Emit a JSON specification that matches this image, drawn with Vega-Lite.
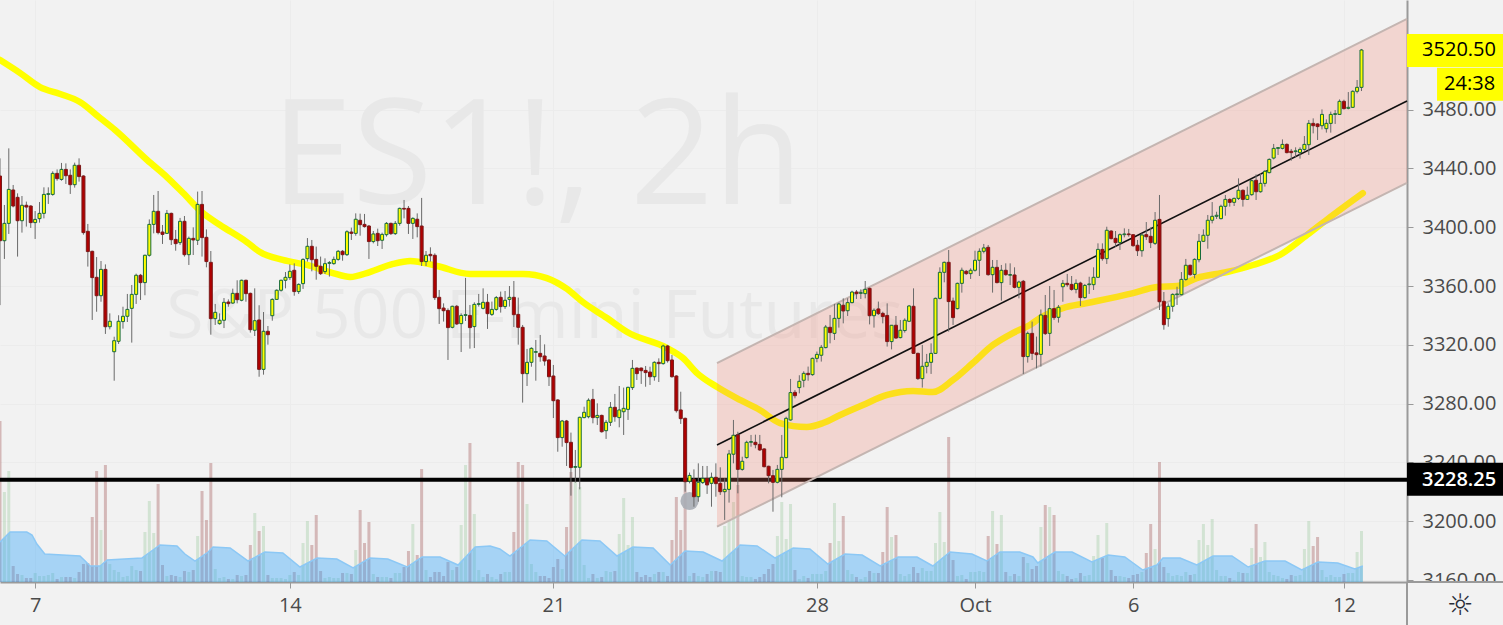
{"$schema":"https://vega.github.io/schema/vega-lite/v6.json","width":1407,"height":582,"autosize":"none","padding":{"left":0,"top":0,"right":96,"bottom":43},"background":"#f2f2f2","config":{"view":{"stroke":null},"text":{"font":"Open Sans"},"axis":{"labelFont":"Open Sans"}},
"datasets":{
"bars":[
{"b":0,"o":3434.8,"h":3446.8,"l":3347,"c":3390.8,"v":161},
{"b":1,"o":3390.8,"h":3415.1,"l":3378.4,"c":3402.6,"v":90},
{"b":2,"o":3402.6,"h":3453.6,"l":3395.4,"c":3425.7,"v":111},
{"b":3,"o":3425.3,"h":3428.7,"l":3413.5,"c":3414.4,"v":16},
{"b":4,"o":3420.3,"h":3423,"l":3380,"c":3404.4,"v":8},
{"b":5,"o":3404.4,"h":3421.2,"l":3396.3,"c":3414.9,"v":7},
{"b":6,"o":3414.9,"h":3417.4,"l":3400.4,"c":3413.7,"v":4},
{"b":7,"o":3414.4,"h":3414.9,"l":3399.5,"c":3403.1,"v":4},
{"b":8,"o":3403.1,"h":3411,"l":3392,"c":3405.3,"v":9},
{"b":9,"o":3405.8,"h":3417.1,"l":3403.1,"c":3409.4,"v":6},
{"b":10,"o":3409.4,"h":3427.1,"l":3406,"c":3422.3,"v":6},
{"b":11,"o":3422.3,"h":3427.1,"l":3415.8,"c":3422.8,"v":7},
{"b":12,"o":3422.3,"h":3438,"l":3421.4,"c":3436.6,"v":9},
{"b":13,"o":3436.6,"h":3439.3,"l":3431.6,"c":3433,"v":3},
{"b":14,"o":3432.5,"h":3443.7,"l":3431.6,"c":3439.3,"v":5},
{"b":15,"o":3439.3,"h":3443.4,"l":3429.4,"c":3435,"v":5},
{"b":16,"o":3435.3,"h":3439.3,"l":3422.6,"c":3428.9,"v":5},
{"b":17,"o":3428.9,"h":3443.9,"l":3426.9,"c":3442.1,"v":4},
{"b":18,"o":3442.1,"h":3446.8,"l":3431,"c":3434.4,"v":10},
{"b":19,"o":3434.8,"h":3435.3,"l":3394.9,"c":3396.3,"v":18},
{"b":20,"o":3397.2,"h":3402.2,"l":3373.2,"c":3383.4,"v":19},
{"b":21,"o":3383.6,"h":3384,"l":3336.9,"c":3365.7,"v":65},
{"b":22,"o":3365.9,"h":3379.7,"l":3342.5,"c":3353.4,"v":111},
{"b":23,"o":3353.4,"h":3377,"l":3349.3,"c":3371.3,"v":52},
{"b":24,"o":3371.3,"h":3374.7,"l":3327.4,"c":3332.3,"v":117},
{"b":25,"o":3332.3,"h":3341.4,"l":3330.5,"c":3336,"v":18},
{"b":26,"o":3315.3,"h":3325.5,"l":3295.6,"c":3322.8,"v":12},
{"b":27,"o":3322.4,"h":3340.1,"l":3320.6,"c":3336,"v":10},
{"b":28,"o":3335.8,"h":3345.9,"l":3331,"c":3339.4,"v":5},
{"b":29,"o":3339.4,"h":3354.6,"l":3335.5,"c":3344.1,"v":6},
{"b":30,"o":3344.8,"h":3360.7,"l":3321.5,"c":3354.3,"v":16},
{"b":31,"o":3354.3,"h":3368.4,"l":3347.8,"c":3367.3,"v":12},
{"b":32,"o":3367.3,"h":3368.2,"l":3350.5,"c":3362.3,"v":11},
{"b":33,"o":3362.3,"h":3381.3,"l":3353.7,"c":3380.9,"v":50},
{"b":34,"o":3380.9,"h":3405.3,"l":3380,"c":3401.9,"v":81},
{"b":35,"o":3401.9,"h":3421.9,"l":3395.8,"c":3410.8,"v":49},
{"b":36,"o":3410.8,"h":3424.6,"l":3395.1,"c":3396.3,"v":98},
{"b":37,"o":3396.7,"h":3401.5,"l":3388.6,"c":3395.1,"v":17},
{"b":38,"o":3395.8,"h":3411.7,"l":3395.4,"c":3409.4,"v":6},
{"b":39,"o":3409.4,"h":3409.9,"l":3387.9,"c":3391.5,"v":7},
{"b":40,"o":3391.7,"h":3398.1,"l":3384,"c":3388.8,"v":6},
{"b":41,"o":3389.5,"h":3406.3,"l":3387.9,"c":3404,"v":5},
{"b":42,"o":3404,"h":3407.6,"l":3380,"c":3381.3,"v":11},
{"b":43,"o":3381.3,"h":3393.6,"l":3374.3,"c":3392.4,"v":10},
{"b":44,"o":3392.4,"h":3399.9,"l":3381.1,"c":3391.3,"v":12},
{"b":45,"o":3391.1,"h":3424.2,"l":3387.9,"c":3415.5,"v":46},
{"b":46,"o":3415.5,"h":3424.6,"l":3380,"c":3392.9,"v":91},
{"b":47,"o":3393.1,"h":3398.5,"l":3372.7,"c":3376.6,"v":62},
{"b":48,"o":3376.1,"h":3383.8,"l":3326.9,"c":3337.8,"v":119},
{"b":49,"o":3337.8,"h":3347.8,"l":3333.5,"c":3342.1,"v":13},
{"b":50,"o":3334.4,"h":3341.4,"l":3333.7,"c":3336.7,"v":4},
{"b":51,"o":3336.7,"h":3351.8,"l":3331.4,"c":3348.9,"v":5},
{"b":52,"o":3349.1,"h":3350.9,"l":3345.9,"c":3348,"v":3},
{"b":53,"o":3348.4,"h":3358.2,"l":3347.8,"c":3355,"v":3},
{"b":54,"o":3355,"h":3363.9,"l":3348.2,"c":3350.7,"v":7},
{"b":55,"o":3350.3,"h":3364.3,"l":3349.6,"c":3363.9,"v":6},
{"b":56,"o":3363.9,"h":3364.3,"l":3349.3,"c":3354.8,"v":7},
{"b":57,"o":3355,"h":3355.5,"l":3328.3,"c":3330.3,"v":37},
{"b":58,"o":3329.9,"h":3358.4,"l":3326,"c":3336.4,"v":69},
{"b":59,"o":3336.9,"h":3346.9,"l":3298.3,"c":3303.3,"v":51},
{"b":60,"o":3303.3,"h":3342.3,"l":3299.7,"c":3329.2,"v":56},
{"b":61,"o":3329.2,"h":3332.8,"l":3320.1,"c":3326.9,"v":7},
{"b":62,"o":3339.8,"h":3351.6,"l":3336.4,"c":3350.9,"v":4},
{"b":63,"o":3350.9,"h":3357.7,"l":3350.5,"c":3357.1,"v":4},
{"b":64,"o":3357.1,"h":3364.3,"l":3356.2,"c":3363.9,"v":4},
{"b":65,"o":3363.9,"h":3369.5,"l":3358.4,"c":3365.9,"v":3},
{"b":66,"o":3365.7,"h":3374.7,"l":3364.1,"c":3370,"v":7},
{"b":67,"o":3370.7,"h":3375.4,"l":3353.4,"c":3356.2,"v":10},
{"b":68,"o":3356.2,"h":3361.8,"l":3354.6,"c":3361.1,"v":7},
{"b":69,"o":3361.6,"h":3378.8,"l":3358,"c":3378.1,"v":39},
{"b":70,"o":3378.6,"h":3392.6,"l":3376.6,"c":3387,"v":61},
{"b":71,"o":3387,"h":3391.3,"l":3370,"c":3377.9,"v":37},
{"b":72,"o":3378.1,"h":3386.8,"l":3364.3,"c":3373.4,"v":67},
{"b":73,"o":3373.4,"h":3380,"l":3367.5,"c":3368.4,"v":11},
{"b":74,"o":3369.8,"h":3378.8,"l":3368.2,"c":3375.2,"v":4},
{"b":75,"o":3375.4,"h":3377,"l":3366.4,"c":3375.9,"v":5},
{"b":76,"o":3375.2,"h":3380,"l":3374.5,"c":3378.1,"v":4},
{"b":77,"o":3378.1,"h":3384.5,"l":3377.2,"c":3383.6,"v":4},
{"b":78,"o":3383.6,"h":3384.5,"l":3377.2,"c":3381.3,"v":9},
{"b":79,"o":3381.3,"h":3397.9,"l":3380.4,"c":3396.9,"v":9},
{"b":80,"o":3396.7,"h":3399.7,"l":3391.3,"c":3395.8,"v":8},
{"b":81,"o":3395.8,"h":3409.4,"l":3394.2,"c":3405.4,"v":32},
{"b":82,"o":3404.7,"h":3409.2,"l":3394.2,"c":3401.7,"v":72},
{"b":83,"o":3401.9,"h":3409,"l":3399.7,"c":3400.4,"v":39},
{"b":84,"o":3400.8,"h":3401.5,"l":3378.4,"c":3390.2,"v":60},
{"b":85,"o":3390.2,"h":3397.4,"l":3389,"c":3395.4,"v":8},
{"b":86,"o":3395.8,"h":3399,"l":3387.2,"c":3390.8,"v":5},
{"b":87,"o":3391.1,"h":3396.3,"l":3385.2,"c":3395.1,"v":5},
{"b":88,"o":3394.9,"h":3403.5,"l":3393.6,"c":3402.6,"v":5},
{"b":89,"o":3402.6,"h":3403.1,"l":3394.7,"c":3395.6,"v":4},
{"b":90,"o":3395.6,"h":3404.2,"l":3394.7,"c":3402.6,"v":9},
{"b":91,"o":3402.6,"h":3413.3,"l":3401,"c":3412.8,"v":9},
{"b":92,"o":3412.8,"h":3418.5,"l":3406,"c":3412.3,"v":15},
{"b":93,"o":3412.8,"h":3414.4,"l":3395.4,"c":3402.6,"v":31},
{"b":94,"o":3402.6,"h":3406.7,"l":3392,"c":3406,"v":58},
{"b":95,"o":3405.4,"h":3409.4,"l":3393.1,"c":3400.4,"v":27},
{"b":96,"o":3400.8,"h":3419.9,"l":3373.6,"c":3376.6,"v":113},
{"b":97,"o":3376.6,"h":3383.8,"l":3373.6,"c":3380.9,"v":12},
{"b":98,"o":3381.5,"h":3386.3,"l":3376.6,"c":3380.6,"v":5},
{"b":99,"o":3380.9,"h":3382.2,"l":3350.5,"c":3352.1,"v":10},
{"b":100,"o":3352.3,"h":3357.3,"l":3334.2,"c":3344.6,"v":10},
{"b":101,"o":3345,"h":3348.2,"l":3335.8,"c":3343.2,"v":6},
{"b":102,"o":3343.4,"h":3344.8,"l":3309.7,"c":3331.7,"v":20},
{"b":103,"o":3331.9,"h":3346.6,"l":3331.2,"c":3346.2,"v":12},
{"b":104,"o":3346.2,"h":3347.1,"l":3333.5,"c":3334.2,"v":15},
{"b":105,"o":3334.4,"h":3341.4,"l":3315.1,"c":3340,"v":57},
{"b":106,"o":3340,"h":3365.5,"l":3336.2,"c":3340.5,"v":117},
{"b":107,"o":3340,"h":3347.1,"l":3317.4,"c":3331.7,"v":139},
{"b":108,"o":3332.4,"h":3348.9,"l":3317.8,"c":3347.5,"v":68},
{"b":109,"o":3347.5,"h":3354.6,"l":3346,"c":3348,"v":12},
{"b":110,"o":3344.8,"h":3358.4,"l":3344.1,"c":3348.9,"v":5},
{"b":111,"o":3348.9,"h":3354.6,"l":3330.8,"c":3341.2,"v":8},
{"b":112,"o":3340.7,"h":3349.4,"l":3339.6,"c":3344.1,"v":5},
{"b":113,"o":3344.1,"h":3353.2,"l":3343.2,"c":3352.1,"v":3},
{"b":114,"o":3352.3,"h":3356.2,"l":3341.9,"c":3346,"v":8},
{"b":115,"o":3346,"h":3356.6,"l":3344.4,"c":3350.3,"v":10},
{"b":116,"o":3350.9,"h":3360,"l":3346,"c":3352.3,"v":10},
{"b":117,"o":3352.3,"h":3363.4,"l":3332.1,"c":3340.5,"v":50},
{"b":118,"o":3340.7,"h":3352.1,"l":3320.1,"c":3331.9,"v":120},
{"b":119,"o":3331.9,"h":3333.5,"l":3280.7,"c":3300.4,"v":117},
{"b":120,"o":3300.4,"h":3317.2,"l":3292,"c":3308.1,"v":78},
{"b":121,"o":3308.1,"h":3318.3,"l":3305.1,"c":3317.6,"v":18},
{"b":122,"o":3314.9,"h":3323.3,"l":3295.6,"c":3315.4,"v":10},
{"b":123,"o":3314.2,"h":3326.7,"l":3308.5,"c":3311.9,"v":6},
{"b":124,"o":3312.4,"h":3320.3,"l":3305.8,"c":3309,"v":6},
{"b":125,"o":3309.7,"h":3310.1,"l":3292,"c":3298.3,"v":4},
{"b":126,"o":3298.8,"h":3306.3,"l":3270.2,"c":3282,"v":15},
{"b":127,"o":3282.5,"h":3283,"l":3247.3,"c":3256.9,"v":23},
{"b":128,"o":3256.9,"h":3268.9,"l":3250.7,"c":3268.2,"v":13},
{"b":129,"o":3268.2,"h":3268.9,"l":3237.6,"c":3253.5,"v":55},
{"b":130,"o":3253.7,"h":3260.3,"l":3217.4,"c":3236.5,"v":110},
{"b":131,"o":3236.7,"h":3248.5,"l":3226.3,"c":3237.2,"v":101},
{"b":132,"o":3236.7,"h":3271.1,"l":3221.7,"c":3270.7,"v":95},
{"b":133,"o":3270.5,"h":3277.9,"l":3270,"c":3274.1,"v":17},
{"b":134,"o":3271.1,"h":3283.6,"l":3270,"c":3282.3,"v":4},
{"b":135,"o":3282.9,"h":3290,"l":3266.6,"c":3270.5,"v":8},
{"b":136,"o":3270.5,"h":3280.2,"l":3265.5,"c":3272,"v":4},
{"b":137,"o":3272,"h":3272.5,"l":3260.3,"c":3260.9,"v":5},
{"b":138,"o":3261.6,"h":3268.9,"l":3256,"c":3267.3,"v":11},
{"b":139,"o":3267.3,"h":3281.1,"l":3264.8,"c":3277.5,"v":10},
{"b":140,"o":3277.5,"h":3286.6,"l":3267.7,"c":3271.1,"v":11},
{"b":141,"o":3270.5,"h":3292,"l":3263.9,"c":3275.7,"v":48},
{"b":142,"o":3274.5,"h":3290.9,"l":3258.7,"c":3276.8,"v":84},
{"b":143,"o":3276.1,"h":3291.5,"l":3268.9,"c":3291.1,"v":37},
{"b":144,"o":3290.9,"h":3309.7,"l":3289.3,"c":3304,"v":65},
{"b":145,"o":3304.2,"h":3304.5,"l":3296.1,"c":3300.4,"v":10},
{"b":146,"o":3304.2,"h":3304.5,"l":3293.4,"c":3302.4,"v":5},
{"b":147,"o":3302.6,"h":3305.6,"l":3291.5,"c":3301.1,"v":7},
{"b":148,"o":3301.5,"h":3305.1,"l":3292.7,"c":3298.3,"v":5},
{"b":149,"o":3298.3,"h":3308.8,"l":3295.6,"c":3308.1,"v":8},
{"b":150,"o":3308.1,"h":3310.8,"l":3294.7,"c":3307.2,"v":10},
{"b":151,"o":3307.2,"h":3320.1,"l":3306.5,"c":3319.2,"v":10},
{"b":152,"o":3319.2,"h":3319.9,"l":3307.9,"c":3309.2,"v":6},
{"b":153,"o":3309.7,"h":3313.1,"l":3297.7,"c":3298.3,"v":42},
{"b":154,"o":3298.8,"h":3299.3,"l":3273.9,"c":3275.2,"v":85},
{"b":155,"o":3275.7,"h":3288.1,"l":3266.2,"c":3269.8,"v":52},
{"b":156,"o":3270,"h":3270.5,"l":3220.1,"c":3226.9,"v":130},
{"b":157,"o":3227.2,"h":3233.1,"l":3225.8,"c":3231.2,"v":6},
{"b":158,"o":3228.5,"h":3235.3,"l":3209.9,"c":3216.7,"v":9},
{"b":159,"o":3216.7,"h":3239.4,"l":3213.3,"c":3226.5,"v":6},
{"b":160,"o":3226.3,"h":3237.6,"l":3225.4,"c":3229.2,"v":5},
{"b":161,"o":3229.2,"h":3237.6,"l":3218.6,"c":3224.7,"v":8},
{"b":162,"o":3225.8,"h":3233.1,"l":3209.9,"c":3229.9,"v":11},
{"b":163,"o":3229.9,"h":3239.4,"l":3216.7,"c":3225.6,"v":11},
{"b":164,"o":3225.8,"h":3236.7,"l":3217.9,"c":3220.1,"v":10},
{"b":165,"o":3220.1,"h":3229.2,"l":3200.9,"c":3221.7,"v":56},
{"b":166,"o":3221.7,"h":3248.5,"l":3212.7,"c":3245.8,"v":61},
{"b":167,"o":3245.6,"h":3268.9,"l":3239.4,"c":3258.5,"v":80},
{"b":168,"o":3258.7,"h":3260.9,"l":3219,"c":3235.3,"v":97},
{"b":169,"o":3235.3,"h":3243.9,"l":3234.4,"c":3240.8,"v":6},
{"b":170,"o":3243.3,"h":3254.8,"l":3242.6,"c":3253.7,"v":5},
{"b":171,"o":3253.7,"h":3258.7,"l":3250.7,"c":3254.2,"v":5},
{"b":172,"o":3253.7,"h":3258.9,"l":3249.6,"c":3252.1,"v":3},
{"b":173,"o":3252.3,"h":3258.7,"l":3247.8,"c":3248.5,"v":5},
{"b":174,"o":3249.2,"h":3249.6,"l":3236.7,"c":3237.1,"v":8},
{"b":175,"o":3237.4,"h":3237.8,"l":3225.8,"c":3231,"v":13},
{"b":176,"o":3231,"h":3234.9,"l":3206.5,"c":3226.5,"v":18},
{"b":177,"o":3226.5,"h":3238.3,"l":3225.8,"c":3235.3,"v":46},
{"b":178,"o":3235.3,"h":3258.7,"l":3216.3,"c":3243.5,"v":80},
{"b":179,"o":3243.3,"h":3271.1,"l":3242.8,"c":3270,"v":43},
{"b":180,"o":3268.9,"h":3296.8,"l":3268.4,"c":3287.5,"v":78},
{"b":181,"o":3287.7,"h":3289.3,"l":3283.6,"c":3285.4,"v":12},
{"b":182,"o":3290.9,"h":3299.3,"l":3287,"c":3295.2,"v":3},
{"b":183,"o":3295.9,"h":3302,"l":3291.1,"c":3300.6,"v":6},
{"b":184,"o":3300.6,"h":3305.2,"l":3295.6,"c":3299.7,"v":4},
{"b":185,"o":3299.7,"h":3311.3,"l":3299,"c":3310.8,"v":8},
{"b":186,"o":3310.8,"h":3315.4,"l":3308.1,"c":3313.5,"v":8},
{"b":187,"o":3312.9,"h":3319.9,"l":3308.6,"c":3318.3,"v":8},
{"b":188,"o":3318.1,"h":3333.5,"l":3317.6,"c":3332.1,"v":11},
{"b":189,"o":3331.9,"h":3340.3,"l":3321,"c":3328.3,"v":39},
{"b":190,"o":3327.8,"h":3347.8,"l":3323.3,"c":3338,"v":79},
{"b":191,"o":3338,"h":3348.7,"l":3331.7,"c":3347.8,"v":41},
{"b":192,"o":3346.9,"h":3351.6,"l":3334.6,"c":3343,"v":66},
{"b":193,"o":3343.2,"h":3351.6,"l":3339.6,"c":3348.7,"v":12},
{"b":194,"o":3348.7,"h":3356.8,"l":3348.2,"c":3355.9,"v":8},
{"b":195,"o":3355.9,"h":3357.3,"l":3351.2,"c":3354.8,"v":5},
{"b":196,"o":3355,"h":3357.7,"l":3351.2,"c":3355.5,"v":3},
{"b":197,"o":3354.8,"h":3363.4,"l":3351.6,"c":3357.7,"v":5},
{"b":198,"o":3358.4,"h":3358.9,"l":3333.9,"c":3339.8,"v":11},
{"b":199,"o":3339.8,"h":3344.8,"l":3331.7,"c":3343.5,"v":9},
{"b":200,"o":3344.4,"h":3349.4,"l":3340.3,"c":3341.2,"v":9},
{"b":201,"o":3341.4,"h":3342.5,"l":3334.6,"c":3339.2,"v":30},
{"b":202,"o":3340,"h":3348.2,"l":3318.8,"c":3322.2,"v":75},
{"b":203,"o":3322.2,"h":3333.5,"l":3316.9,"c":3333.3,"v":45},
{"b":204,"o":3333.3,"h":3339.6,"l":3324.2,"c":3324.6,"v":47},
{"b":205,"o":3324.9,"h":3336.9,"l":3324.4,"c":3329.9,"v":8},
{"b":206,"o":3329.7,"h":3338,"l":3328.3,"c":3336.7,"v":6},
{"b":207,"o":3336,"h":3347.1,"l":3335.5,"c":3346.4,"v":8},
{"b":208,"o":3346.2,"h":3358.4,"l":3313.8,"c":3314.2,"v":15},
{"b":209,"o":3314.2,"h":3314.7,"l":3296.1,"c":3297,"v":9},
{"b":210,"o":3297,"h":3319.9,"l":3290.9,"c":3305.4,"v":14},
{"b":211,"o":3305.4,"h":3313.8,"l":3300.6,"c":3308.1,"v":11},
{"b":212,"o":3308.1,"h":3321,"l":3300.2,"c":3314.2,"v":11},
{"b":213,"o":3314.2,"h":3352.1,"l":3313.8,"c":3351.6,"v":39},
{"b":214,"o":3351.6,"h":3372.7,"l":3350.9,"c":3369.3,"v":70},
{"b":215,"o":3369.3,"h":3376.6,"l":3362.5,"c":3376.1,"v":40},
{"b":216,"o":3376.1,"h":3384.5,"l":3329,"c":3349.4,"v":145},
{"b":217,"o":3349.8,"h":3352.1,"l":3333.5,"c":3338.5,"v":22},
{"b":218,"o":3344.6,"h":3362.3,"l":3344.1,"c":3361.8,"v":6},
{"b":219,"o":3361.8,"h":3372.5,"l":3355.5,"c":3370.7,"v":7},
{"b":220,"o":3370,"h":3370.9,"l":3367.5,"c":3368.4,"v":3},
{"b":221,"o":3368.4,"h":3372,"l":3364.8,"c":3370.7,"v":10},
{"b":222,"o":3370.7,"h":3384,"l":3369.8,"c":3377.5,"v":10},
{"b":223,"o":3377.5,"h":3385.6,"l":3366.8,"c":3383.6,"v":11},
{"b":224,"o":3383.6,"h":3388.6,"l":3382.2,"c":3385.9,"v":10},
{"b":225,"o":3386.3,"h":3387.9,"l":3367,"c":3367.7,"v":46},
{"b":226,"o":3367.7,"h":3377.7,"l":3355.5,"c":3372.7,"v":71},
{"b":227,"o":3372.7,"h":3377.7,"l":3361.8,"c":3362.3,"v":38},
{"b":228,"o":3362.3,"h":3374.3,"l":3350,"c":3370.7,"v":67},
{"b":229,"o":3370.7,"h":3375.4,"l":3367,"c":3367.7,"v":10},
{"b":230,"o":3367.3,"h":3375.4,"l":3360.7,"c":3367.8,"v":6},
{"b":231,"o":3367.5,"h":3372.7,"l":3358.4,"c":3359.1,"v":8},
{"b":232,"o":3359.1,"h":3363.6,"l":3351.6,"c":3362.7,"v":6},
{"b":233,"o":3363.2,"h":3364.1,"l":3300.2,"c":3312,"v":25},
{"b":234,"o":3312,"h":3329,"l":3307.9,"c":3327.8,"v":19},
{"b":235,"o":3327.8,"h":3335.8,"l":3309.7,"c":3314.2,"v":13},
{"b":236,"o":3314.5,"h":3325.6,"l":3304,"c":3313.3,"v":16},
{"b":237,"o":3313.5,"h":3344,"l":3305.2,"c":3340.3,"v":55},
{"b":238,"o":3340,"h":3353.9,"l":3326.7,"c":3327.6,"v":77},
{"b":239,"o":3327.8,"h":3360,"l":3319.2,"c":3344.6,"v":75},
{"b":240,"o":3344.6,"h":3357.3,"l":3336.9,"c":3338.5,"v":67},
{"b":241,"o":3338.7,"h":3347.1,"l":3335.1,"c":3345.5,"v":11},
{"b":242,"o":3359.5,"h":3364.1,"l":3349.3,"c":3361.8,"v":8},
{"b":243,"o":3361.8,"h":3368.2,"l":3359.5,"c":3360.9,"v":6},
{"b":244,"o":3361.1,"h":3366.8,"l":3356.8,"c":3357.7,"v":3},
{"b":245,"o":3357.7,"h":3364.5,"l":3355,"c":3361.8,"v":4},
{"b":246,"o":3362,"h":3362.9,"l":3346.4,"c":3352.1,"v":9},
{"b":247,"o":3352.1,"h":3361.4,"l":3351.4,"c":3360.4,"v":6},
{"b":248,"o":3360.9,"h":3366.3,"l":3354.6,"c":3361.4,"v":7},
{"b":249,"o":3360.9,"h":3372.7,"l":3357.3,"c":3365.9,"v":26},
{"b":250,"o":3365.9,"h":3389,"l":3365.4,"c":3384.9,"v":47},
{"b":251,"o":3384.9,"h":3389,"l":3377.2,"c":3378.6,"v":24},
{"b":252,"o":3378.6,"h":3400.3,"l":3375,"c":3397.9,"v":59},
{"b":253,"o":3397.4,"h":3397.9,"l":3391.7,"c":3392.2,"v":12},
{"b":254,"o":3392.4,"h":3397.4,"l":3386.7,"c":3389.5,"v":6},
{"b":255,"o":3389.5,"h":3395.8,"l":3384.5,"c":3394.9,"v":6},
{"b":256,"o":3394.9,"h":3399.2,"l":3393.1,"c":3395.4,"v":5},
{"b":257,"o":3395.4,"h":3398.8,"l":3393.5,"c":3394.9,"v":4},
{"b":258,"o":3394.9,"h":3395.3,"l":3386.7,"c":3387.4,"v":7},
{"b":259,"o":3387.7,"h":3391.3,"l":3380.4,"c":3384,"v":8},
{"b":260,"o":3384,"h":3395.8,"l":3379.9,"c":3394.7,"v":10},
{"b":261,"o":3394.9,"h":3403.5,"l":3391.3,"c":3393.5,"v":29},
{"b":262,"o":3393.8,"h":3399.9,"l":3385.8,"c":3389.5,"v":58},
{"b":263,"o":3389,"h":3410.3,"l":3387.9,"c":3404.7,"v":33},
{"b":264,"o":3405.3,"h":3421.9,"l":3343.7,"c":3349.3,"v":120},
{"b":265,"o":3349.6,"h":3355.9,"l":3330.3,"c":3333.7,"v":15},
{"b":266,"o":3337.8,"h":3348.2,"l":3332.3,"c":3346.2,"v":9},
{"b":267,"o":3346.2,"h":3355,"l":3342.5,"c":3354.3,"v":6},
{"b":268,"o":3354.1,"h":3359.5,"l":3347.1,"c":3354.6,"v":7},
{"b":269,"o":3354.1,"h":3369.5,"l":3353.6,"c":3364.5,"v":6},
{"b":270,"o":3364.5,"h":3378.4,"l":3363.6,"c":3374.1,"v":10},
{"b":271,"o":3374.1,"h":3374.5,"l":3367,"c":3367.7,"v":7},
{"b":272,"o":3367.9,"h":3378.8,"l":3365.2,"c":3378.1,"v":8},
{"b":273,"o":3377.9,"h":3395.4,"l":3376.1,"c":3390.4,"v":42},
{"b":274,"o":3390.4,"h":3398.5,"l":3389.9,"c":3394.5,"v":58},
{"b":275,"o":3394.5,"h":3408.3,"l":3385.4,"c":3404.7,"v":37},
{"b":276,"o":3404.7,"h":3417.1,"l":3402.6,"c":3407.4,"v":63},
{"b":277,"o":3407.4,"h":3410.5,"l":3405.6,"c":3408.1,"v":12},
{"b":278,"o":3405.8,"h":3415.3,"l":3405.3,"c":3414.2,"v":6},
{"b":279,"o":3414.2,"h":3421.9,"l":3407.8,"c":3418.9,"v":6},
{"b":280,"o":3418.9,"h":3419.6,"l":3414,"c":3416.9,"v":4},
{"b":281,"o":3416.9,"h":3420.1,"l":3414.4,"c":3419.6,"v":2},
{"b":282,"o":3419.6,"h":3433.2,"l":3418.5,"c":3425.1,"v":10},
{"b":283,"o":3425.1,"h":3425.7,"l":3414,"c":3418.9,"v":9},
{"b":284,"o":3418.9,"h":3427.6,"l":3418.5,"c":3421.7,"v":9},
{"b":285,"o":3422.1,"h":3432.5,"l":3421.4,"c":3431.6,"v":34},
{"b":286,"o":3431.9,"h":3435.9,"l":3418.5,"c":3424.1,"v":58},
{"b":287,"o":3424.1,"h":3436.6,"l":3423.5,"c":3429.8,"v":25},
{"b":288,"o":3429.8,"h":3438.9,"l":3427.6,"c":3438,"v":40},
{"b":289,"o":3437.1,"h":3446.8,"l":3436.6,"c":3446.1,"v":10},
{"b":290,"o":3447,"h":3456.6,"l":3446.1,"c":3453.6,"v":7},
{"b":291,"o":3453.6,"h":3454.3,"l":3449.1,"c":3454.1,"v":6},
{"b":292,"o":3453.6,"h":3459.7,"l":3452.9,"c":3456.3,"v":4},
{"b":293,"o":3456.3,"h":3457,"l":3450.2,"c":3450.7,"v":3},
{"b":294,"o":3451.6,"h":3453.2,"l":3445.2,"c":3450.7,"v":7},
{"b":295,"o":3451.4,"h":3454.3,"l":3447.5,"c":3451.9,"v":6},
{"b":296,"o":3450.7,"h":3454.3,"l":3446.6,"c":3452.9,"v":7},
{"b":297,"o":3452.9,"h":3462,"l":3452,"c":3456.3,"v":33},
{"b":298,"o":3456.1,"h":3472.9,"l":3449.1,"c":3470.6,"v":61},
{"b":299,"o":3470.6,"h":3474,"l":3463.8,"c":3469,"v":36},
{"b":300,"o":3470.2,"h":3470.6,"l":3459.3,"c":3468.4,"v":45},
{"b":301,"o":3469,"h":3480.1,"l":3466.5,"c":3476.7,"v":12},
{"b":302,"o":3467,"h":3473.3,"l":3464.3,"c":3470.6,"v":5},
{"b":303,"o":3470.6,"h":3478.6,"l":3464.3,"c":3476.7,"v":7},
{"b":304,"o":3476.7,"h":3479.7,"l":3470.2,"c":3477.2,"v":5},
{"b":305,"o":3476.7,"h":3486.9,"l":3476.3,"c":3485.6,"v":5},
{"b":306,"o":3485.6,"h":3486.7,"l":3480.1,"c":3480.6,"v":8},
{"b":307,"o":3480.8,"h":3491.9,"l":3480.1,"c":3481.5,"v":9},
{"b":308,"o":3481.5,"h":3493.1,"l":3481.1,"c":3492.4,"v":9},
{"b":309,"o":3492.4,"h":3500.1,"l":3491,"c":3495.1,"v":30},
{"b":310,"o":3495.1,"h":3521.2,"l":3492.6,"c":3520.5,"v":51}
],
"ma":[{"b":0,"p":3513.7},{"b":4.6,"p":3504.8},{"b":9.1,"p":3495.3},{"b":13.7,"p":3490.6},{"b":18.2,"p":3485.1},{"b":22.8,"p":3474.2},{"b":26.2,"p":3466.1},{"b":33.5,"p":3445.7},{"b":38,"p":3434.1},{"b":41.7,"p":3423.2},{"b":46.2,"p":3409.6},{"b":50.1,"p":3401.5},{"b":56.2,"p":3389.9},{"b":59.2,"p":3383.1},{"b":64.4,"p":3377.7},{"b":69.9,"p":3374.3},{"b":75.8,"p":3368.8},{"b":79.7,"p":3366.1},{"b":84.2,"p":3369.5},{"b":89.5,"p":3375},{"b":93.4,"p":3377},{"b":99.5,"p":3373.6},{"b":107,"p":3368.2},{"b":119.1,"p":3368.2},{"b":124.5,"p":3365.4},{"b":129.1,"p":3358},{"b":132.7,"p":3349.1},{"b":138.2,"p":3338.2},{"b":142.8,"p":3328.7},{"b":151.9,"p":3317.8},{"b":155.5,"p":3311},{"b":158.7,"p":3300.8},{"b":163.3,"p":3291.3},{"b":168.5,"p":3282.5},{"b":173,"p":3275.7},{"b":177.6,"p":3266.8},{"b":183.7,"p":3264.1},{"b":187.4,"p":3266.8},{"b":191.3,"p":3272.3},{"b":196.5,"p":3279.1},{"b":202,"p":3285.9},{"b":207.9,"p":3288.6},{"b":212.4,"p":3287.9},{"b":217,"p":3296.1},{"b":221.5,"p":3307.6},{"b":226.1,"p":3319.9},{"b":230.6,"p":3328},{"b":234.5,"p":3333.5},{"b":236.8,"p":3338.2},{"b":242,"p":3345},{"b":247.5,"p":3348.4},{"b":258,"p":3355.2},{"b":263.4,"p":3359.3},{"b":268,"p":3360},{"b":272.5,"p":3365.4},{"b":279.4,"p":3369.5},{"b":285.3,"p":3374.3},{"b":291.4,"p":3381.1},{"b":297.6,"p":3394.7},{"b":303.5,"p":3408.3},{"b":310.3,"p":3423.2}],
"vma":[{"b":0,"m":40},{"b":2.3,"m":50},{"b":6.1,"m":50},{"b":7.3,"m":47},{"b":8.4,"m":38},{"b":10.2,"m":28},{"b":18.2,"m":26},{"b":19.4,"m":21},{"b":20.5,"m":16},{"b":22.8,"m":16},{"b":24.4,"m":22},{"b":32.3,"m":24},{"b":34.2,"m":30},{"b":36.4,"m":37},{"b":40.3,"m":36},{"b":42.1,"m":28},{"b":44.4,"m":21},{"b":47.4,"m":30},{"b":48.5,"m":35},{"b":52.4,"m":34},{"b":56.5,"m":21},{"b":60.3,"m":30},{"b":64.4,"m":29},{"b":68.3,"m":15},{"b":72.2,"m":24},{"b":76.7,"m":23},{"b":80.4,"m":14},{"b":84.2,"m":24},{"b":88.3,"m":23},{"b":92.7,"m":15},{"b":96.1,"m":25},{"b":100.2,"m":25},{"b":104.3,"m":17},{"b":108.2,"m":35},{"b":111.6,"m":36},{"b":113.8,"m":33},{"b":116.1,"m":26},{"b":120.7,"m":42},{"b":124.5,"m":41},{"b":128.6,"m":26},{"b":132.5,"m":42},{"b":136.6,"m":41},{"b":140.5,"m":26},{"b":144.1,"m":35},{"b":148.7,"m":34},{"b":152.6,"m":17},{"b":156,"m":31},{"b":160.1,"m":30},{"b":164.4,"m":21},{"b":168.5,"m":37},{"b":172.4,"m":36},{"b":176.5,"m":24},{"b":180.6,"m":34},{"b":184.4,"m":33},{"b":188.5,"m":18},{"b":192.4,"m":28},{"b":196.3,"m":27},{"b":200.4,"m":16},{"b":204.5,"m":25},{"b":208.8,"m":25},{"b":212.4,"m":16},{"b":216.3,"m":30},{"b":221.3,"m":28},{"b":224.7,"m":21},{"b":227.7,"m":30},{"b":232.2,"m":30},{"b":235.2,"m":25},{"b":236.3,"m":19},{"b":240.2,"m":30},{"b":244.1,"m":30},{"b":248.6,"m":20},{"b":252.3,"m":27},{"b":256.1,"m":25},{"b":260.2,"m":12},{"b":263.4,"m":17},{"b":264.8,"m":24},{"b":268.7,"m":24},{"b":272.5,"m":17},{"b":276.2,"m":26},{"b":280.5,"m":26},{"b":284.2,"m":15},{"b":288,"m":21},{"b":292.6,"m":21},{"b":296.4,"m":12},{"b":300.1,"m":20},{"b":304.6,"m":19},{"b":308.5,"m":13},{"b":310.3,"m":16}],
"chan":[{"b":163.25,"top":3307.6,"mid":3251.9,"bot":3196.3},{"b":320.36,"top":3541.6,"mid":3485.8,"bot":3430.2}]
},
"encoding":{"x":{"field":"b","type":"quantitative","title":null,"scale":{"domain":[0,320.36],"nice":false,"zero":false,"padding":0},"axis":{"values":[8,66,126,186,222,258,306],"labelExpr":"datum.value==8?'7':datum.value==66?'14':datum.value==126?'21':datum.value==186?'28':datum.value==222?'Oct':datum.value==258?'6':'12'","labelFont":"Open Sans","labelFontSize":20,"labelColor":"#4a4a4a","labelPadding":7,"labelOverlap":false,"tickColor":"#999999","tickSize":6,"domainColor":"#9a9a9a","domainWidth":2,"gridColor":"#ececec","grid":true}}},
"resolve":{"scale":{"y":"independent"}},
"layer":[
{"data":{"values":[{"b":122.3,"p":3445.7,"t":"ES1!, 2h"}]},"mark":{"type":"text","fontSize":146,"color":"#e8e8e8","font":"Open Sans","align":"center","baseline":"middle"},"encoding":{"y":{"field":"p","type":"quantitative","scale":{"domain":[3158.7,3554.5],"nice":false,"zero":false},"axis":{"values":[3160,3200,3240,3280,3320,3360,3400,3440,3480,3560],"format":".2f","orient":"right","title":null,"labelFont":"Open Sans","labelFontSize":20,"labelColor":"#4a4a4a","labelPadding":9,"labelOverlap":false,"labelFlush":false,"labelBound":false,"tickColor":"#999999","tickSize":6,"domainColor":"#9a9a9a","domainWidth":2,"gridColor":"#ececec","grid":true}},"text":{"field":"t"}}},
{"data":{"values":[{"b":121.8,"p":3338.2,"t":"S&P 500 E-mini Futures"}]},"mark":{"type":"text","fontSize":68,"color":"#e8e8e8","font":"Open Sans","align":"center","baseline":"middle"},"encoding":{"y":{"field":"p","type":"quantitative","axis":null,"scale":{"domain":[3158.7,3554.5],"nice":false,"zero":false}},"text":{"field":"t"}}},
{"data":{"name":"bars"},"mark":{"type":"bar","orient":"vertical","size":3,"opacity":0.3},"encoding":{"y":{"field":"v","type":"quantitative","stack":null,"axis":null,"scale":{"domain":[0,582],"nice":false}},"fill":{"condition":{"test":"datum.c<datum.o","value":"#8f3232"},"value":"#89c18c"}}},
{"data":{"name":"vma"},"mark":{"type":"area","color":"#34a5fa","opacity":0.4},"encoding":{"y":{"field":"m","type":"quantitative","stack":null,"axis":null,"scale":{"domain":[0,582],"nice":false}}}},
{"data":{"name":"vma"},"mark":{"type":"line","color":"#8cc8f5","strokeWidth":1.5},"encoding":{"y":{"field":"m","type":"quantitative","axis":null,"scale":{"domain":[0,582],"nice":false}}}},
{"data":{"values":[{"b":0,"p":3228.25},{"b":320.36,"p":3228.25}]},"mark":{"type":"line","color":"#000000","strokeWidth":4},"encoding":{"y":{"field":"p","type":"quantitative","axis":null,"scale":{"domain":[3158.7,3554.5],"nice":false,"zero":false}}}},
{"data":{"name":"ma"},"mark":{"type":"line","color":"#ffff00","strokeWidth":6.5,"interpolate":"monotone","strokeCap":"round"},"encoding":{"y":{"field":"p","type":"quantitative","axis":null,"scale":{"domain":[3158.7,3554.5],"nice":false,"zero":false}}}},
{"data":{"name":"chan"},"mark":{"type":"area","color":"#f27e6a","opacity":0.25},"encoding":{"y":{"field":"top","type":"quantitative","stack":null,"axis":null,"scale":{"domain":[3158.7,3554.5],"nice":false,"zero":false}},"y2":{"field":"bot"}}},
{"data":{"name":"chan"},"mark":{"type":"line","color":"#c4b5b1","strokeWidth":2},"encoding":{"y":{"field":"top","type":"quantitative","axis":null,"scale":{"domain":[3158.7,3554.5],"nice":false,"zero":false}}}},
{"data":{"name":"chan"},"mark":{"type":"line","color":"#c4b5b1","strokeWidth":2},"encoding":{"y":{"field":"bot","type":"quantitative","axis":null,"scale":{"domain":[3158.7,3554.5],"nice":false,"zero":false}}}},
{"data":{"name":"chan"},"mark":{"type":"line","color":"#111111","strokeWidth":1.6},"encoding":{"y":{"field":"mid","type":"quantitative","axis":null,"scale":{"domain":[3158.7,3554.5],"nice":false,"zero":false}}}},
{"data":{"values":[{"b":157,"p":3213.8}]},"mark":{"type":"point","filled":true,"size":330,"color":"#a9adb5","opacity":0.9},"encoding":{"y":{"field":"p","type":"quantitative","axis":null,"scale":{"domain":[3158.7,3554.5],"nice":false,"zero":false}}}},
{"data":{"name":"bars"},"mark":{"type":"rule","color":"#6a6a6a","strokeWidth":1},"encoding":{"y":{"field":"l","type":"quantitative","axis":null,"scale":{"domain":[3158.7,3554.5],"nice":false,"zero":false}},"y2":{"field":"h"}}},
{"data":{"name":"bars"},"mark":{"type":"bar","orient":"vertical","size":3,"strokeWidth":1},"encoding":{"y":{"field":"o","type":"quantitative","stack":null,"axis":null,"scale":{"domain":[3158.7,3554.5],"nice":false,"zero":false}},"y2":{"field":"c"},"fill":{"condition":{"test":"datum.c<datum.o","value":"#b00000"},"value":"#ffff00"},"stroke":{"condition":{"test":"datum.c<datum.o","value":"#7a1a1a"},"value":"#156a3c"}}},
{"data":{"values":[{"b":320.36,"b2":342.3,"p":3158.7,"p2":3129.5}]},"mark":{"type":"rect","color":"#f2f2f2"},"encoding":{"x2":{"field":"b2"},"y":{"field":"p","type":"quantitative","axis":null,"scale":{"domain":[3158.7,3554.5],"nice":false,"zero":false}},"y2":{"field":"p2"}}},
{"data":{"values":[{"b":320.36,"b2":342.3,"p":3158.7}]},"mark":{"type":"rule","color":"#9a9a9a","strokeWidth":2},"encoding":{"x2":{"field":"b2"},"y":{"field":"p","type":"quantitative","axis":null,"scale":{"domain":[3158.7,3554.5],"nice":false,"zero":false}}}},
{"data":{"values":[{"b":320.36,"p":3158.7,"p2":3129.5}]},"mark":{"type":"rule","color":"#9a9a9a","strokeWidth":2},"encoding":{"y":{"field":"p","type":"quantitative","axis":null,"scale":{"domain":[3158.7,3554.5],"nice":false,"zero":false}},"y2":{"field":"p2"}}},
{"data":{"values":[{"b":320.36,"b2":342.3,"p":3531.4,"p2":3509},{"b":327.2,"b2":342.3,"p":3508.4,"p2":3485.9}]},"mark":{"type":"rect","color":"#ffff00"},"encoding":{"x2":{"field":"b2"},"y":{"field":"p","type":"quantitative","axis":null,"scale":{"domain":[3158.7,3554.5],"nice":false,"zero":false}},"y2":{"field":"p2"}}},
{"data":{"values":[{"b":320.36,"b2":342.3,"p":3239.8,"p2":3217.4}]},"mark":{"type":"rect","color":"#000000"},"encoding":{"x2":{"field":"b2"},"y":{"field":"p","type":"quantitative","axis":null,"scale":{"domain":[3158.7,3554.5],"nice":false,"zero":false}},"y2":{"field":"p2"}}},
{"data":{"values":[{"b":323.8,"p":3520.5,"t":"3520.50"},{"b":328.8,"p":3497.4,"t":"24:38"}]},"mark":{"type":"text","fontSize":20,"color":"#000000","font":"Open Sans","align":"left","baseline":"middle"},"encoding":{"y":{"field":"p","type":"quantitative","axis":null,"scale":{"domain":[3158.7,3554.5],"nice":false,"zero":false}},"text":{"field":"t"}}},
{"data":{"values":[{"b":323.8,"p":3228.25,"t":"3228.25"}]},"mark":{"type":"text","fontSize":20,"color":"#ffffff","font":"Open Sans","fontWeight":600,"align":"left","baseline":"middle"},"encoding":{"y":{"field":"p","type":"quantitative","axis":null,"scale":{"domain":[3158.7,3554.5],"nice":false,"zero":false}},"text":{"field":"t"}}},
{"data":{"values":[{"b":332.4,"p":3142.4,"t":"☼"}]},"mark":{"type":"text","fontSize":30,"color":"#2a2e39","font":"DejaVu Sans","align":"center","baseline":"middle"},"encoding":{"y":{"field":"p","type":"quantitative","axis":null,"scale":{"domain":[3158.7,3554.5],"nice":false,"zero":false}},"text":{"field":"t"}}}
]}
